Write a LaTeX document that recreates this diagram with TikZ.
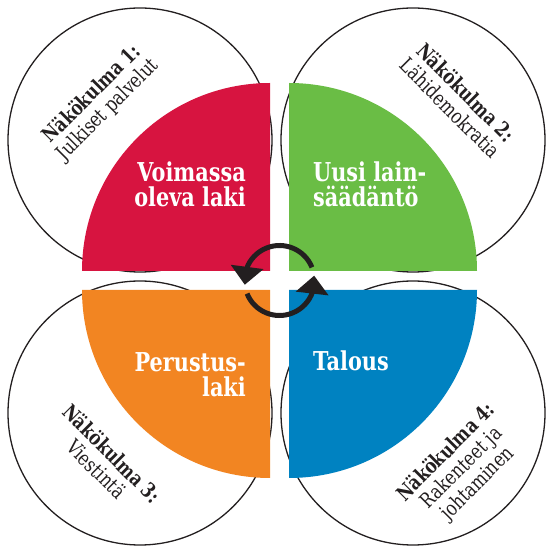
\documentclass[tikz,border=0pt]{standalone}
\usepackage{fontspec}
\setmainfont{DejaVu Serif}[FakeStretch=0.8]
\usetikzlibrary{arrows.meta,bending}
\definecolor{lawred}{RGB}{215,20,64}
\definecolor{lawgreen}{RGB}{106,189,69}
\definecolor{laworange}{RGB}{242,133,34}
\definecolor{lawblue}{RGB}{0,130,193}
\definecolor{inkblack}{RGB}{35,31,32}
\begin{document}
\begin{tikzpicture}[x=1pt,y=1pt,
  view/.style={circle, draw=inkblack, line width=1.3pt, fill=white, minimum size=264pt, inner sep=0pt},
  qlabel/.style={text=white, font=\bfseries\fontsize{26}{25}\selectfont, inner sep=0pt},
  vlabel/.style={text=inkblack, font=\fontsize{20.5}{22}\selectfont, align=center, inner sep=0pt},
  cycle arrow/.style={line width=5pt, draw=inkblack, -{Triangle[width=32pt,length=18pt]}}]
\useasboundingbox (0,0) rectangle (546,549);

% four viewpoint circles behind the pie
\node[view] (v1) at (140,409) {};
\node[view] (v2) at (413,409) {};
\node[view] (v3) at (140,136) {};
\node[view] (v4) at (413,136) {};

% the four quarters of the pie, separated by a white cross
\fill[lawred]    (270,278) -- ++(-188,0) arc[start angle=180, end angle=90,  radius=188] -- cycle;
\fill[lawgreen]  (289,278) -- ++(0,188)  arc[start angle=90,  end angle=0,   radius=188] -- cycle;
\fill[laworange] (270,259) -- ++(0,-188) arc[start angle=270, end angle=180, radius=188] -- cycle;
\fill[lawblue]   (289,259) -- ++(188,0)  arc[start angle=0,   end angle=-90, radius=188] -- cycle;

% quarter labels (base anchor = baseline of the last line)
\node[qlabel, anchor=base east, align=right] (q1) at (246,342) {Voimassa\\oleva laki};
\node[qlabel, anchor=base west, align=left]  (q2) at (313,342) {Uusi lain-\\säädäntö};
\node[qlabel, anchor=base east, align=right] (q3) at (246,152) {Perustus-\\laki};
\node[qlabel, anchor=base west, align=left]  (q4) at (313,178) {Talous};

% circular arrows in the middle
\coordinate (hub) at (279.5,268.5);
\draw[cycle arrow] ([shift={(22:35)}]hub) arc[start angle=22, end angle=187, radius=35];
\draw[cycle arrow] ([shift={(202:35)}]hub) arc[start angle=202, end angle=368, radius=35];

% viewpoint labels
\node[vlabel, rotate=45]  (t1) at (100,447)   {\textbf{Näkökulma 1:}\\Julkiset palvelut};
\node[vlabel, rotate=-45] (t2) at (458.5,449) {\textbf{Näkökulma 2:}\\Lähidemokratia};
\node[vlabel, rotate=-45] (t3) at (104.5,88)  {\textbf{Näkökulma 3:}\\Viestintä};
\node[vlabel, rotate=45]  (t4) at (462,81)    {\textbf{Näkökulma 4:}\\Rakenteet ja\\johtaminen};
\end{tikzpicture}
\end{document}
